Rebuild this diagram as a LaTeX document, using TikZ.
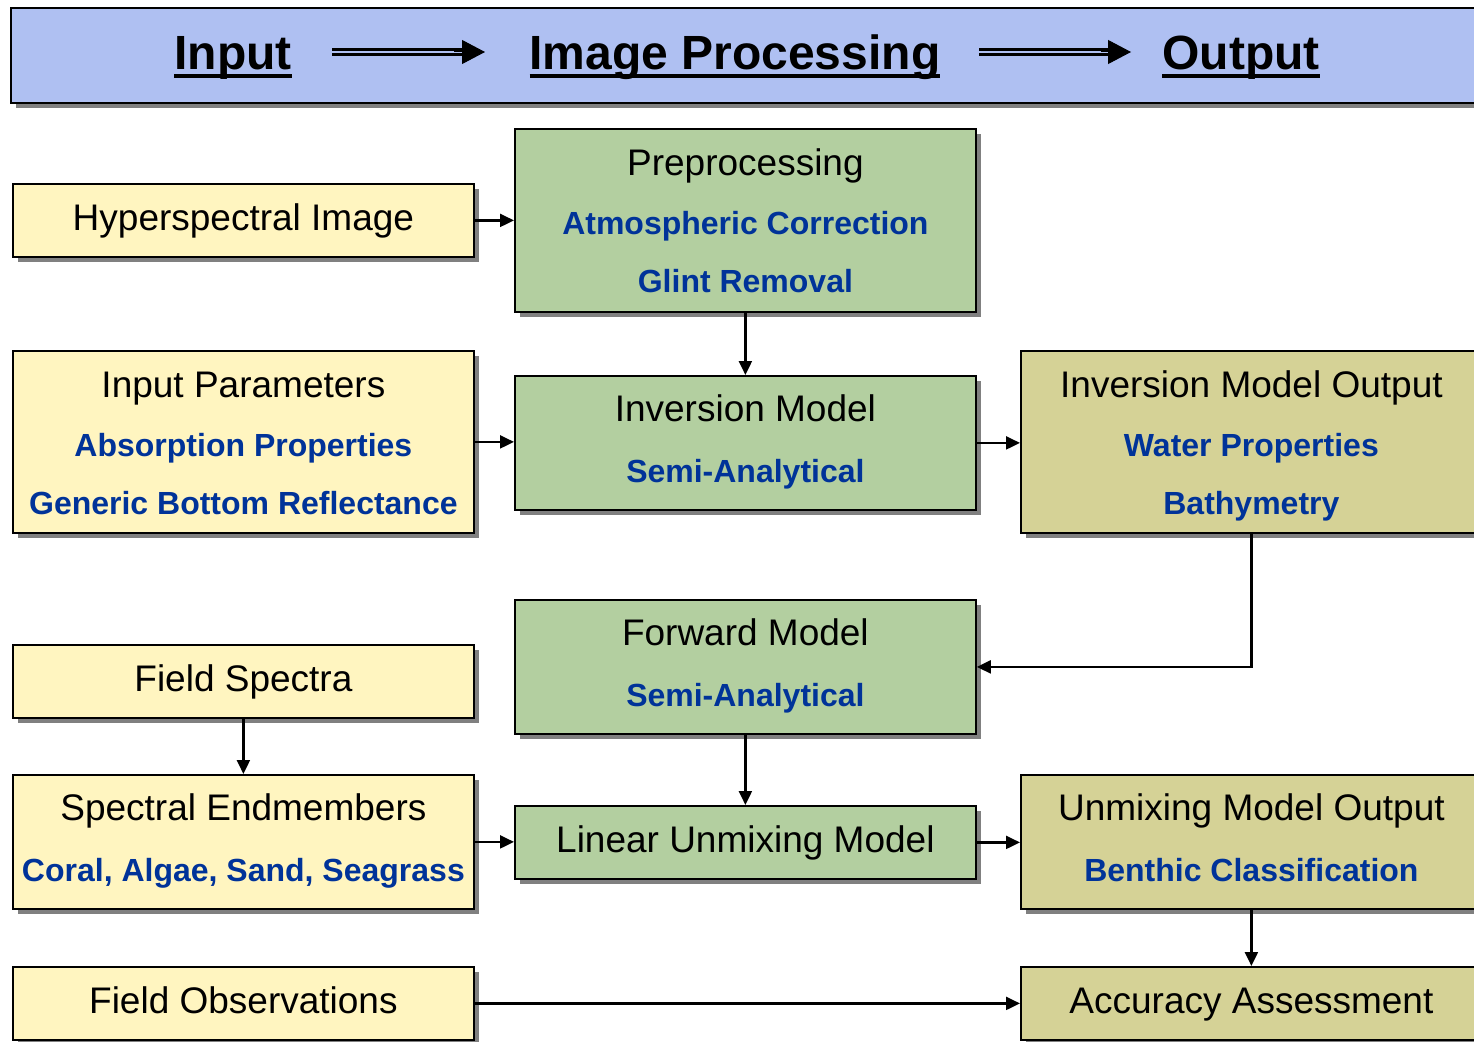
\documentclass[tikz,border=0pt]{standalone}
\usepackage{fontspec}
\setmainfont{Liberation Sans}
\usetikzlibrary{arrows.meta,shadows,calc}
\definecolor{hdrblue}{HTML}{AFC0F2}
\definecolor{inyel}{HTML}{FFF5C0}
\definecolor{procgreen}{HTML}{B3CFA0}
\definecolor{outolive}{HTML}{D5D296}
\definecolor{tblue}{HTML}{003399}
\newcommand\hdul[1]{\setbox0=\hbox{#1}\rlap{\copy0}\rule[-8pt]{\wd0}{4pt}}
\newcommand\subl[1]{{\fontsize{32}{60}\selectfont\bfseries\color{tblue}#1}}
\newcommand\st[2]{\vrule width0pt height#1pt depth#2pt\relax}
\begin{document}
\begin{tikzpicture}[x=1pt,y=-1pt,
  shad/.style={drop shadow={shadow xshift=5pt,shadow yshift=-5pt,fill=black!50,opacity=1}},
  box/.style={draw=black,line width=1.8pt,anchor=north west,minimum width=461pt,inner sep=0pt,
    align=center,font=\fontsize{37}{60}\selectfont,shad},
  inbox/.style={box,fill=inyel},
  procbox/.style={box,fill=procgreen},
  outbox/.style={box,fill=outolive},
  conn/.style={line width=2.2pt,-{Triangle[length=14pt,width=13pt]}},
  hdtext/.style={anchor=base,font=\fontsize{48}{56}\selectfont\bfseries,inner sep=0pt},
]
\useasboundingbox (0,0) rectangle (1474,1041);
% header
\node[draw=black,line width=1.8pt,fill=hdrblue,anchor=north west,minimum width=1472pt,
      minimum height=95pt,inner sep=0pt,shad] (hdr) at (10,7) {};
\node[hdtext] (inp) at (233,70) {\hdul{Input}};
\node[hdtext] (imgp) at (735,70) {\hdul{Image Processing}};
\node[hdtext] (outp) at (1241,70) {\hdul{Output}};
\coordinate (a1s) at (332,52);
\coordinate (a1e) at (485,52);
\coordinate (a2s) at (979,52);
\coordinate (a2e) at (1131,52);
\foreach \s/\e in {a1s/a1e,a2s/a2e}{
  \draw[line width=2.4pt,double=hdrblue,double distance=2.6pt,shorten >=20pt] (\s) -- (\e);
  \draw[line width=1pt,-{Triangle[length=23pt,width=24pt]}] ($(\s)!0.8!(\e)$) -- (\e);
}
% boxes
\node[inbox,minimum height=73pt] (hsi) at (12,183) {\st{34}{13}Hyperspectral Image};
\node[procbox,minimum height=183pt] (pre) at (514,128)
  {\st{39}{0}Preprocessing\\[-1pt] \subl{Atmospheric Correction}\\[-2pt] \subl{Glint Removal}\st{0}{12}};
\node[inbox,minimum height=182pt] (ipar) at (12,350)
  {\st{40}{0}Input Parameters\\[-1pt] \subl{Absorption Properties}\\[-2pt] \subl{Generic Bottom Reflectance}\st{0}{12}};
\node[procbox,minimum height=134pt] (inv) at (514,375)
  {\st{34}{0}Inversion Model\\[1pt] \subl{Semi-Analytical}\st{0}{15}};
\node[outbox,minimum height=182pt] (imo) at (1020,350)
  {\st{40}{0}Inversion Model Output\\[-1pt] \subl{Water Properties}\\[-2pt] \subl{Bathymetry}\st{0}{12}};
\node[procbox,minimum height=134pt] (fwd) at (514,599)
  {\st{34}{0}Forward Model\\[1pt] \subl{Semi-Analytical}\st{0}{15}};
\node[inbox,minimum height=73pt] (fsp) at (12,644) {\st{34}{13}Field Spectra};
\node[inbox,minimum height=134pt] (send) at (12,774)
  {\st{34}{0}Spectral Endmembers\\[1pt] \subl{Coral, Algae, Sand, Seagrass}\st{0}{15}};
\node[procbox,minimum height=73pt] (lum) at (514,805) {\st{34}{13}Linear Unmixing Model};
\node[outbox,minimum height=134pt] (umo) at (1020,774)
  {\st{34}{0}Unmixing Model Output\\[1pt] \subl{Benthic Classification}\st{0}{15}};
\node[inbox,minimum height=73pt] (fobs) at (12,966) {\st{34}{13}Field Observations};
\node[outbox,minimum height=73pt] (acc) at (1020,966) {\st{34}{13}Accuracy Assessment};
% connectors
\draw[conn] (hsi.east) -- (hsi.east -| pre.west);
\draw[conn] (pre.south) -- (inv.north);
\draw[conn] (ipar.east) -- (ipar.east -| inv.west);
\draw[conn] (inv.east) -- (inv.east -| imo.west);
\draw[conn] (imo.south) |- (fwd.east);
\draw[conn] (fsp.south) -- (send.north);
\draw[conn] (fwd.south) -- (lum.north);
\draw[conn] (send.east) -- (send.east -| lum.west);
\draw[conn] (lum.east) -- (lum.east -| umo.west);
\draw[conn] (umo.south) -- (acc.north);
\draw[conn] (fobs.east) -- (acc.west);
\end{tikzpicture}
\end{document}
